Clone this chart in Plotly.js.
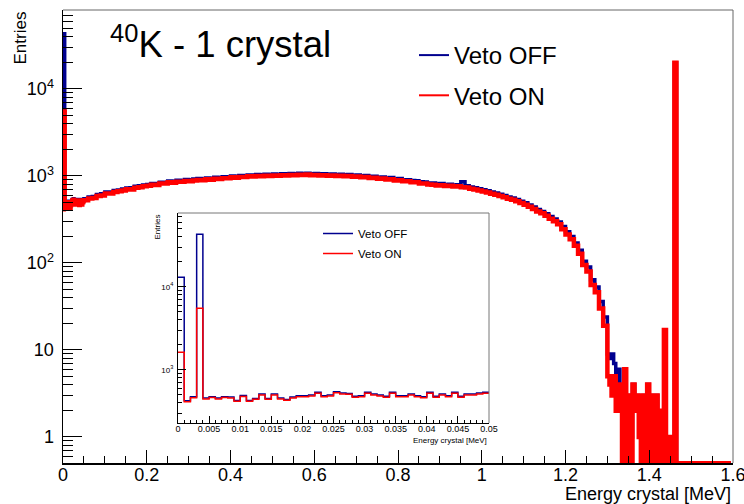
<!DOCTYPE html>
<html><head><meta charset="utf-8">
<script src="https://cdn.plot.ly/plotly-3.0.1.min.js"></script>
<style>body{margin:0;background:#fff}#chart{width:744px;height:504px}</style>
</head><body><div id="chart"></div>
<script>
// ---- data (Entries per bin, energy in MeV) ----
const seriesNames = ['Veto OFF', 'Veto ON'];
// fine bins 0 - 0.05 MeV, width 0.001 (shown in the inset)
const fineStart = 0, fineWidth = 0.001;
const fineOff = [13100,425,475,43200,458,477,458,477,472,430,492,430,454,513,454,513,459,442,472,489,
                 489,498,537,489,498,546,527,522,481,489,537,513,498,481,537,489,489,513,489,476,
                 537,481,513,489,537,481,513,513,527,537];
const fineOn  = [1630,415,464,5530,447,465,447,465,460,419,480,419,443,500,443,500,448,431,460,477,
                 477,486,524,477,486,533,514,509,469,477,524,500,486,469,524,477,477,500,477,464,
                 524,469,500,477,524,469,500,500,514,524];
// bins 0.05 - 1.30 MeV, width 0.01
const midStart = 0.05, midWidth = 0.01;
const midOff = [548,572,580,612,625,655,655,680,692,710,
                730,732,762,770,790,800,822,822,850,850,
                878,872,892,890,910,908,925,935,932,950,
                945,965,962,980,980,1000,995,1012,1010,1028,
                1025,1040,1032,1048,1042,1055,1050,1062,1058,1070,
                1062,1075,1070,1078,1062,1070,1058,1062,1048,1055,
                1040,1048,1032,1038,1020,1028,1005,1012,990,992,
                970,975,948,958,928,935,908,905,888,882,
                858,855,832,830,812,818,800,805,790,795,
                860,772,745,732,712,695,675,655,638,615,
                598,575,558,538,512,492,465,440,412,392,
                368,342,320,295,262,228,202,170,140,105,
                90,64,53,36,24];
const midOn  = [525,552,558,590,598,630,628,655,668,680,
                705,700,735,742,760,770,795,790,820,818,
                845,838,860,858,878,872,890,900,895,915,
                908,930,925,945,942,965,955,975,972,990,
                985,1000,992,1008,1000,1015,1008,1022,1015,1030,
                1020,1035,1028,1038,1020,1030,1015,1022,1005,1015,
                1000,1008,990,998,980,988,965,972,950,952,
                930,935,910,918,890,895,870,868,850,845,
                822,818,798,795,778,782,765,770,755,760,
                740,738,712,700,682,665,645,625,610,588,
                570,548,532,512,488,468,442,418,392,372,
                348,322,302,278,245,212,188,158,128,95,
                80,56,46,30,19];
// bins 1.30 - 1.60 MeV, width 0.005
const tailStart = 1.30, tailWidth = 0.005;
const tailOff = [9,8,9,7,4,6,3,1,6,1,3,1,4,2,3,1,0,3,0,4,0,3,0,3,0,2,0,17,0,1,0,1,20000,
                 0,0,0,0,0,0,0,0,0,0,0,0,0,0,0,0,0,0,0,0,0,0,0,0,0,0];
const tailOn  = [5,4,3,5,2,4,2,0,6,0,3,0,4,2,3,1,0,3,0,4,0,3,0,3,0,2,0,17,0,1,0,1,20000,
                 0,0,0,0,0,0,0,0,0,0,0,0,0,0,0,0,0,0,0,0,0,0,0,0,0,0];
// tick labels
const yTickVals = [1, 10, 100, 1000, 10000];
const yTickText = ['1', '10', '10<sup>2</sup>', '10<sup>3</sup>', '10<sup>4</sup>'];
const insetYTickVals = [1000, 10000];
const insetYTickText = ['10<sup>3</sup>', '10<sup>4</sup>'];

// ---- helpers ----
function stepXY(segments, floor) {
  const xs = [], ys = [];
  segments.forEach(([start, width, vals]) => {
    vals.forEach((v, i) => { xs.push(+(start + i * width).toFixed(4)); ys.push(v > 0 ? v : floor); });
  });
  const last = segments[segments.length - 1];
  xs.push(+(last[0] + last[2].length * last[1]).toFixed(4));
  ys.push(ys[ys.length - 1]);
  return { x: xs, y: ys };
}
function minorLog(kmin, kmax) {
  const out = [];
  for (let k = kmin; k <= kmax; k++) for (let m = 2; m <= 9; m++) out.push(m * Math.pow(10, k));
  return out;
}
const BLUE = '#00008f', RED = '#ff0000';
const ZERO_FLOOR = 0.5;

const mainOff = stepXY([[fineStart, fineWidth, fineOff], [midStart, midWidth, midOff], [tailStart, tailWidth, tailOff]], ZERO_FLOOR);
const mainOn  = stepXY([[fineStart, fineWidth, fineOn],  [midStart, midWidth, midOn],  [tailStart, tailWidth, tailOn]],  ZERO_FLOOR);
const insOff = stepXY([[fineStart, fineWidth, fineOff]], ZERO_FLOOR);
const insOn  = stepXY([[fineStart, fineWidth, fineOn]],  ZERO_FLOOR);

const traces = [
  { type: 'scatter', mode: 'lines', x: mainOff.x, y: mainOff.y, line: { color: BLUE, width: 3.5, shape: 'hv' }, showlegend: false, xaxis: 'x', yaxis: 'y', hoverinfo: 'skip' },
  { type: 'scatter', mode: 'lines', x: mainOn.x,  y: mainOn.y,  line: { color: RED,  width: 4.5, shape: 'hv' }, showlegend: false, xaxis: 'x', yaxis: 'y', hoverinfo: 'skip' },
  { type: 'scatter', mode: 'lines', name: seriesNames[0], x: [null], y: [null], line: { color: BLUE, width: 2 }, legend: 'legend', legendgroup: 'a', xaxis: 'x', yaxis: 'y' },
  { type: 'scatter', mode: 'lines', name: seriesNames[1], x: [null], y: [null], line: { color: RED,  width: 2 }, legend: 'legend', legendgroup: 'b', xaxis: 'x', yaxis: 'y' },
  { type: 'scatter', mode: 'lines', name: seriesNames[0], x: insOff.x, y: insOff.y, line: { color: BLUE, width: 1.5, shape: 'hv' }, legend: 'legend2', legendgroup: 'c', xaxis: 'x2', yaxis: 'y2' },
  { type: 'scatter', mode: 'lines', name: seriesNames[1], x: insOn.x,  y: insOn.y,  line: { color: RED,  width: 1.5, shape: 'hv' }, legend: 'legend2', legendgroup: 'd', xaxis: 'x2', yaxis: 'y2' }
];

const L = 63, R = 733, T = 10, B = 463, W = R - L, H = B - T;
const px = x => (x - L) / W, py = y => (B - y) / H;
const FONT = 'Liberation Sans, Arial, Helvetica, sans-serif';

const layout = {
  width: 744, height: 504,
  margin: { l: L, r: 744 - R, t: T, b: 504 - B, pad: 0 },
  paper_bgcolor: '#fff', plot_bgcolor: '#fff',
  font: { family: FONT, color: '#000' },
  xaxis: {
    range: [0, 1.6], tick0: 0, dtick: 0.2, ticks: 'inside', ticklen: 13, tickwidth: 1, tickcolor: '#000',
    showline: true, linecolor: '#000', linewidth: 1.5, showgrid: false, zeroline: false,
    tickfont: { size: 18, family: FONT }, ticklabeloverflow: 'allow', ticklabelstandoff: -5, anchor: 'y',
    minor: { tick0: 0, dtick: 0.05, ticks: 'inside', ticklen: 7, tickcolor: '#000', tickwidth: 1, showgrid: false }
  },
  yaxis: {
    type: 'log', range: [-0.299, 4.908], tickmode: 'array', tickvals: yTickVals, ticktext: yTickText,
    ticks: 'inside', ticklen: 19, tickwidth: 1, tickcolor: '#000',
    showline: true, linecolor: '#000', linewidth: 1.5, showgrid: false, zeroline: false,
    tickfont: { size: 18, family: FONT }, ticklabelstandoff: 4, anchor: 'x',
    minor: { tickmode: 'array', tickvals: minorLog(-1, 4), ticks: 'inside', ticklen: 10, tickcolor: '#000', tickwidth: 1, showgrid: false }
  },
  xaxis2: {
    domain: [px(178), px(489)], anchor: 'y2', range: [0, 0.05], tick0: 0, dtick: 0.005,
    ticks: 'inside', ticklen: 7, tickwidth: 1, tickcolor: '#000',
    showline: true, linecolor: '#000', linewidth: 1, showgrid: false, zeroline: false,
    tickfont: { size: 9, family: FONT }, ticklabeloverflow: 'allow', ticklabelstandoff: -3,
    minor: { tick0: 0, dtick: 0.001, ticks: 'inside', ticklen: 3, tickcolor: '#000', tickwidth: 1, showgrid: false }
  },
  yaxis2: {
    domain: [py(423), py(213)], anchor: 'x2', type: 'log', range: [2.361, 4.89],
    tickmode: 'array', tickvals: insetYTickVals, ticktext: insetYTickText,
    ticks: 'inside', ticklen: 8, tickwidth: 1, tickcolor: '#000',
    showline: true, linecolor: '#000', linewidth: 1, showgrid: false, zeroline: false,
    tickfont: { size: 8, family: FONT }, ticklabelstandoff: 2,
    minor: { tickmode: 'array', tickvals: minorLog(2, 4), ticks: 'inside', ticklen: 4, tickcolor: '#000', tickwidth: 1, showgrid: false }
  },
  showlegend: true,
  legend: { x: px(414), y: py(33), xanchor: 'left', yanchor: 'top', font: { size: 24, family: FONT }, bgcolor: 'rgba(0,0,0,0)', tracegroupgap: 6, borderwidth: 0 },
  legend2: { x: px(318), y: py(219), xanchor: 'left', yanchor: 'top', font: { size: 11.5, family: FONT }, bgcolor: 'rgba(0,0,0,0)', tracegroupgap: 1, borderwidth: 0 },
  annotations: [
    { text: '<sup>40</sup>K - 1 crystal', xref: 'paper', yref: 'paper', x: px(108), y: py(42), xanchor: 'left', yanchor: 'middle', showarrow: false, font: { size: 36.5, family: FONT } },
    { text: 'Entries', xref: 'paper', yref: 'paper', x: px(20), y: 1, xanchor: 'center', yanchor: 'top', textangle: -90, showarrow: false, font: { size: 17, family: FONT } },
    { text: 'Energy crystal [MeV]', xref: 'paper', yref: 'paper', x: 1, y: py(494), xanchor: 'right', yanchor: 'middle', showarrow: false, font: { size: 18, family: FONT } },
    { text: 'Entries', xref: 'paper', yref: 'paper', x: px(157), y: py(213), xanchor: 'center', yanchor: 'top', textangle: -90, showarrow: false, font: { size: 8, family: FONT } },
    { text: 'Energy crystal [MeV]', xref: 'paper', yref: 'paper', x: px(489), y: py(440), xanchor: 'right', yanchor: 'middle', showarrow: false, font: { size: 8, family: FONT } }
  ],
  shapes: [
    { type: 'line', xref: 'paper', yref: 'paper', x0: 0, x1: 1, y0: 1, y1: 1, line: { color: '#666', width: 1 } },
    { type: 'line', xref: 'paper', yref: 'paper', x0: 1, x1: 1, y0: 0, y1: 1, line: { color: '#666', width: 1 } },
    { type: 'line', xref: 'x2 domain', yref: 'y2 domain', x0: 0, x1: 1, y0: 1, y1: 1, line: { color: '#777', width: 1 } },
    { type: 'line', xref: 'x2 domain', yref: 'y2 domain', x0: 1, x1: 1, y0: 0, y1: 1, line: { color: '#777', width: 1 } }
  ]
};

Plotly.newPlot('chart', traces, layout, { displayModeBar: false, staticPlot: true });
</script>
</body></html>
